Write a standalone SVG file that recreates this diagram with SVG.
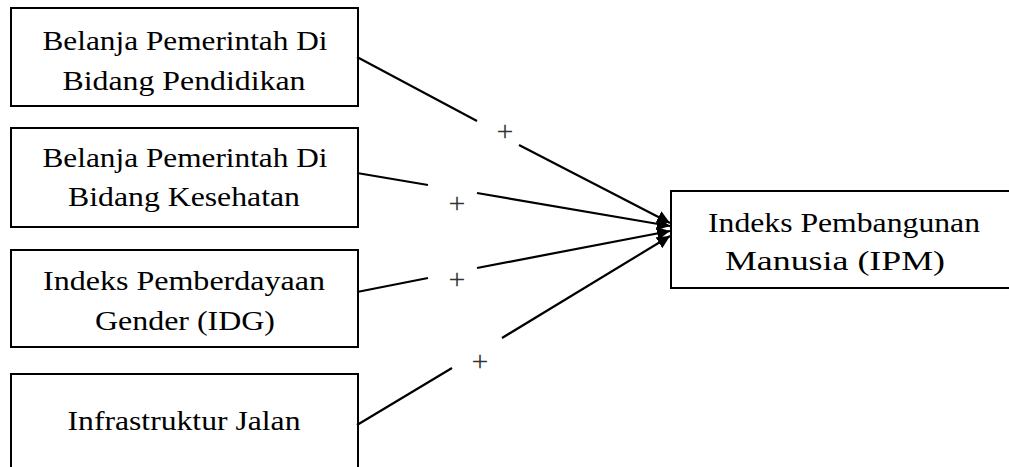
<svg xmlns="http://www.w3.org/2000/svg" width="1009" height="467" viewBox="0 0 1009 467">
<style>
.box{fill:#fff;stroke:#000;stroke-width:2}
.t{font-family:'Liberation Serif','Times New Roman',Times,serif;font-size:28px;fill:#000;text-anchor:middle}
.p{font-family:'Liberation Serif','Times New Roman',Times,serif;font-size:30px;fill:#333;text-anchor:middle}
.c{stroke:#000;stroke-width:2.2;fill:none}
</style>
<defs>
<marker id="ah" viewBox="0 0 12 12" refX="12" refY="6" markerWidth="13" markerHeight="13" markerUnits="userSpaceOnUse" orient="auto">
<path d="M0,0 L12,6 L0,12 z" fill="#000"/>
</marker>
</defs>
<rect width="1009" height="467" fill="#fff"/>
<g id="n1">
<rect class="box" x="11" y="8" width="347" height="98"/>
<text class="t" x="185" y="50" textLength="285" lengthAdjust="spacingAndGlyphs">Belanja Pemerintah Di</text>
<text class="t" x="184" y="90" textLength="243" lengthAdjust="spacingAndGlyphs">Bidang Pendidikan</text>
</g>
<g id="n2">
<rect class="box" x="11" y="128" width="347" height="99"/>
<text class="t" x="185" y="167" textLength="285" lengthAdjust="spacingAndGlyphs">Belanja Pemerintah Di</text>
<text class="t" x="184" y="206" textLength="232" lengthAdjust="spacingAndGlyphs">Bidang Kesehatan</text>
</g>
<g id="n3">
<rect class="box" x="11" y="250" width="347" height="97"/>
<text class="t" x="184" y="290" textLength="282" lengthAdjust="spacingAndGlyphs">Indeks Pemberdayaan</text>
<text class="t" x="185" y="330" textLength="180" lengthAdjust="spacingAndGlyphs">Gender (IDG)</text>
</g>
<g id="n4">
<rect class="box" x="11" y="374" width="347" height="110"/>
<text class="t" x="184" y="430" textLength="233" lengthAdjust="spacingAndGlyphs">Infrastruktur Jalan</text>
</g>
<g id="n5">
<rect class="box" x="671" y="191" width="346" height="97"/>
<text class="t" x="844" y="232" textLength="272" lengthAdjust="spacingAndGlyphs">Indeks Pembangunan</text>
<text class="t" x="835" y="270" textLength="220" lengthAdjust="spacingAndGlyphs">Manusia (IPM)</text>
</g>
<g id="connectors">
<line class="c" x1="357" y1="57" x2="477" y2="121"/>
<line class="c" x1="519" y1="145" x2="670" y2="223" marker-end="url(#ah)"/>
<line class="c" x1="357" y1="173" x2="428" y2="185"/>
<line class="c" x1="477" y1="193" x2="670" y2="226" marker-end="url(#ah)"/>
<line class="c" x1="357" y1="292" x2="428" y2="278"/>
<line class="c" x1="477" y1="268" x2="670" y2="231" marker-end="url(#ah)"/>
<line class="c" x1="357" y1="425" x2="452" y2="368"/>
<line class="c" x1="502" y1="338" x2="670" y2="236" marker-end="url(#ah)"/>
<text class="p" x="505" y="141">+</text>
<text class="p" x="457" y="213">+</text>
<text class="p" x="457" y="289">+</text>
<text class="p" x="480" y="371">+</text>
</g>
</svg>
